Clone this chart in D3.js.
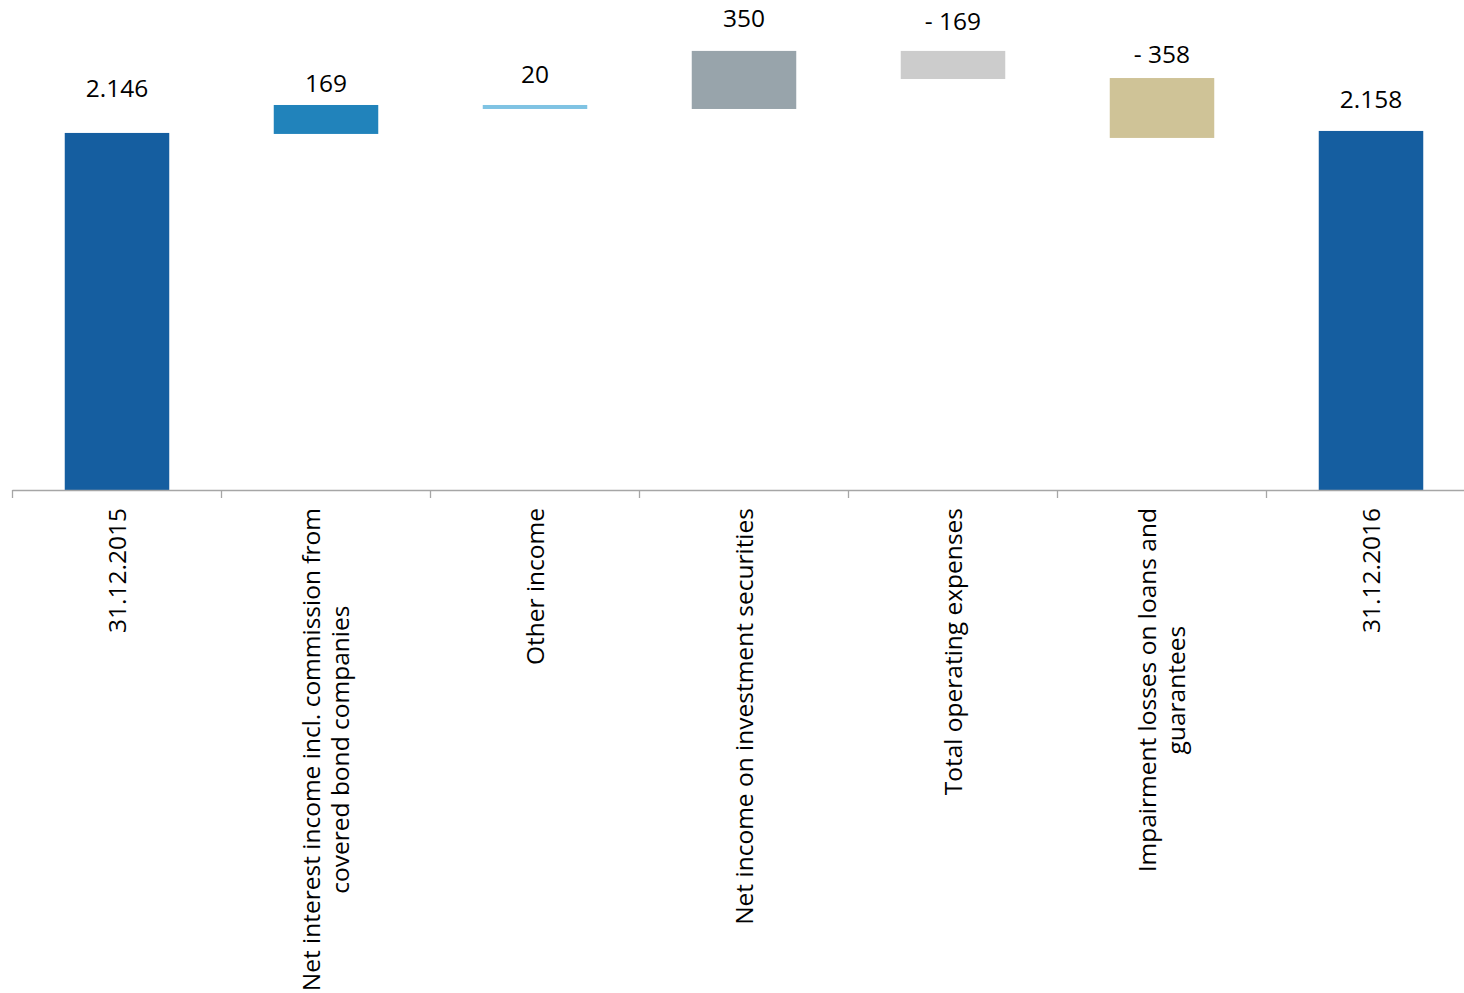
<!DOCTYPE html>
<html>
<head>
<meta charset="utf-8">
<script src="https://cdn.jsdelivr.net/npm/d3@7"></script>
<style>
  html, body { margin: 0; padding: 0; background: #fff; }
  svg { display: block; font-family: "Open Sans", sans-serif; }
</style>
</head>
<body>
<svg id="chart" width="1464" height="993"></svg>
<script>
// Waterfall: equity bridge 31.12.2015 -> 31.12.2016

const categories = [
  "31.12.2015",
  "Net interest income incl. commission from\ncovered bond companies",
  "Other income",
  "Net income on investment securities",
  "Total operating expenses",
  "Impairment losses on loans and\nguarantees",
  "31.12.2016",
];

// printed data labels
const valueLabels = ["2.146", "169", "20", "350", "- 169", "- 358", "2.158"];

// bar spans as drawn (same units as the labels)
const barFrom = [0, 2140, 2314, 2290, 2639, 2476, 0];
const barTo = [2146, 2314, 2290, 2639, 2470, 2116, 2158];

// hidden helper series the labels sit on
const labelLevel = [2362, 2392, 2446, 2783, 2765, 2567, 2296];

const barColors = ["#155ea0", "#2183bb", "#7fc3e3", "#98a4ab", "#cccccc", "#cfc397", "#155ea0"];

const svg = d3.select("#chart");
const baseY = 490;

const x = d3.scaleBand()
  .domain(categories)
  .range([12.5, 1475.5])
  .paddingInner(0.5)
  .paddingOuter(0.25);

const y = d3.scaleLinear().domain([0, 2945]).range([baseY, 0]);

const rows = categories.map((c, i) => ({
  cat: c, from: barFrom[i], to: barTo[i], label: valueLabels[i],
  level: labelLevel[i], color: barColors[i],
}));

// ── bars ────────────────────────────────────────────────
svg.append("g").selectAll("rect")
  .data(rows)
  .join("rect")
  .attr("x", d => x(d.cat))
  .attr("width", x.bandwidth())
  .attr("y", d => y(Math.max(d.from, d.to)))
  .attr("height", d => Math.abs(y(d.from) - y(d.to)))
  .attr("fill", d => d.color);

// ── value labels ────────────────────────────────────────
svg.append("g").selectAll("text")
  .data(rows)
  .join("text")
  .attr("x", d => x(d.cat) + x.bandwidth() / 2)
  .attr("y", d => y(d.level))
  .attr("text-anchor", "middle")
  .attr("font-size", 24.5)
  .attr("fill", "#000")
  .text(d => d.label);

// ── category axis ───────────────────────────────────────
const axis = svg.append("g");
const step = x.step();
axis.append("line")
  .attr("x1", 12.5).attr("x2", 1475.5)
  .attr("y1", baseY + 0.5).attr("y2", baseY + 0.5)
  .attr("stroke", "#a6a6a6").attr("stroke-width", 1.3);

const tickXs = d3.range(categories.length + 1).map(i => x.range()[0] + i * step);
axis.selectAll("line.tick")
  .data(tickXs)
  .join("line")
  .attr("class", "tick")
  .attr("x1", d => d).attr("x2", d => d)
  .attr("y1", baseY).attr("y2", baseY + 8)
  .attr("stroke", "#a6a6a6").attr("stroke-width", 1.3);

const lineH = 29.5;
const labelTop = 508;
rows.forEach(d => {
  const lines = d.cat.split("\n");
  const cx = x(d.cat) + x.bandwidth() / 2;
  const g = axis.append("g");
  const texts = lines.map((ln, i) => g.append("text")
    .attr("font-size", 24.5)
    .attr("fill", "#000")
    .attr("text-anchor", "middle")
    .text(ln));
  const maxW = d3.max(texts, t => t.node().getComputedTextLength());
  texts.forEach((t, i) => {
    const bx = cx + 8.6 + (i - (lines.length - 1) / 2) * lineH;
    const by = labelTop + maxW / 2;
    t.attr("transform", `translate(${bx},${by}) rotate(-90)`);
  });
});
</script>
</body>
</html>
